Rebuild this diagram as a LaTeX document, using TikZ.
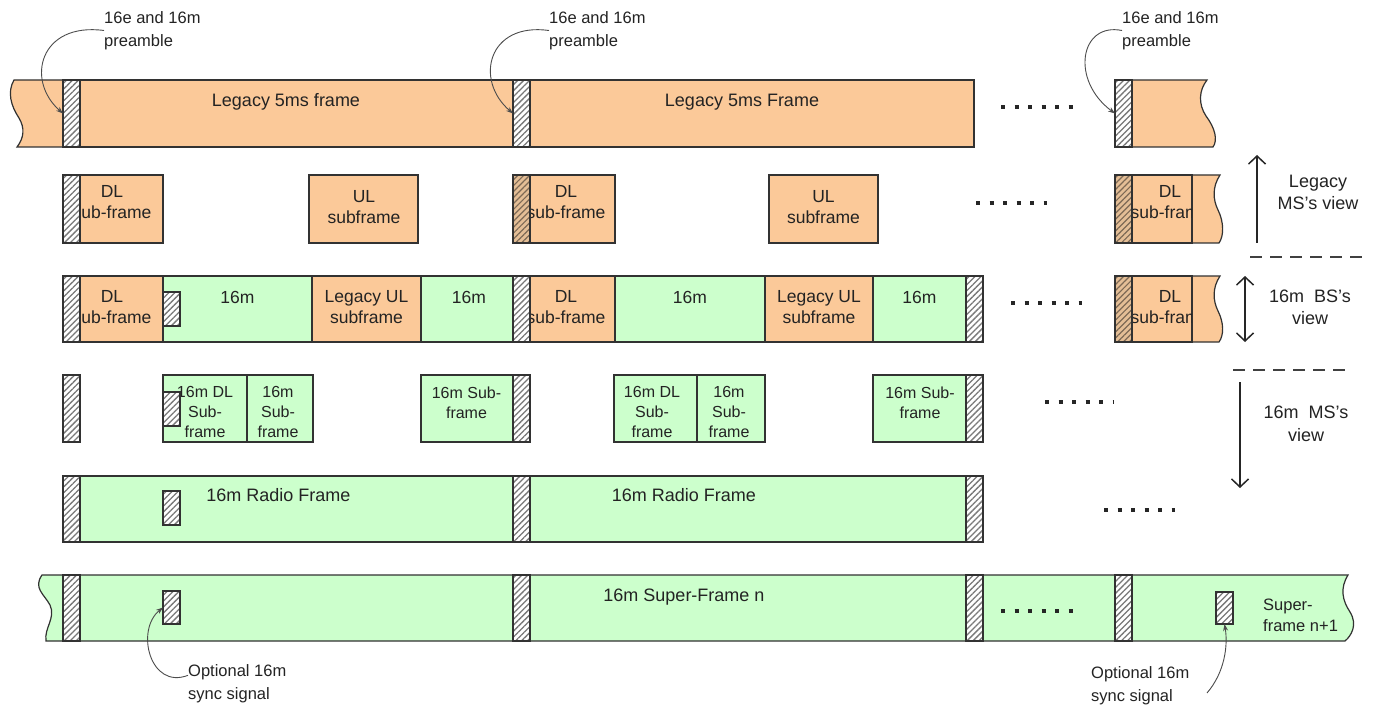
\documentclass[tikz,border=0pt]{standalone}
\usepackage{fontspec}
\setmainfont{Liberation Sans}
\usetikzlibrary{fit,patterns.meta,arrows.meta}
\definecolor{orF}{RGB}{251,201,153}
\definecolor{orH}{RGB}{228,190,150}
\definecolor{grF}{RGB}{204,255,204}
\definecolor{edgeC}{RGB}{50,50,50}
\definecolor{hatC}{RGB}{120,120,120}
\definecolor{hatB}{RGB}{125,105,85}
\definecolor{txtC}{RGB}{35,35,35}
\tikzset{
  seg/.style={draw=edgeC, line width=1.2pt, inner sep=0pt, outer sep=0pt},
  orb/.style={seg, fill=orF},
  grb/.style={seg, fill=grF},
  hat/.style={seg, preaction={fill=white}, pattern={Lines[angle=45,distance=4.2pt,line width=1.3pt]}, pattern color=hatC},
  hatb/.style={seg, preaction={fill=orH}, pattern={Lines[angle=45,distance=4.2pt,line width=1.2pt]}, pattern color=hatB},
  lbl/.style={text=txtC, inner sep=0pt, font=\fontsize{18}{21}\selectfont, align=center},
  sublbl/.style={lbl, font=\fontsize{17.5}{21}\selectfont},
  smalllbl/.style={lbl, font=\fontsize{16}{20}\selectfont},
  annlbl/.style={lbl, font=\fontsize{16.5}{23}\selectfont, align=left},
  viewlbl/.style={lbl, font=\fontsize{18}{22.5}\selectfont},
  dotrow/.style={line width=4pt, dash pattern=on 4pt off 9.5pt, draw=black!85},
  curvearr/.style={draw=black!70, line width=0.9pt, -{Stealth[length=7pt,width=5pt]}},
  viewarr/.style={draw=black!85, line width=1.5pt},
  sepline/.style={draw=black!75, line width=1.3pt, dash pattern=on 12pt off 8pt},
}
\newcommand\bx[6]{\node[#1, fit={(#3,#4) (#5,#6)}] (#2) {};}
\begin{document}
\begin{tikzpicture}[x=1pt,y=-1pt]
\useasboundingbox (0,0) rectangle (1375,711);
\fill[white] (0,0) rectangle (1375,711);

% ---------- Row 1 : legacy 5 ms frames ----------
\draw[seg, fill=orF] (14,80) -- (63,80) -- (63,147) -- (17,147)
  .. controls (24,138) and (25,128) .. (19,118)
  .. controls (11,106) and (7,92) .. (14,80) -- cycle;
\bx{orb}{o1a}{80}{80}{513}{147}
\bx{orb}{o1b}{530}{80}{974}{147}
\draw[seg, fill=orF] (1132,80) -- (1207,80)
  .. controls (1199,90) and (1198,104) .. (1206,116)
  .. controls (1215,128) and (1218,140) .. (1213,147) -- (1132,147) -- cycle;
\bx{hat}{h1a}{63}{80}{80}{147}
\bx{hat}{h1b}{513}{80}{530}{147}
\bx{hat}{h1c}{1115}{80}{1132}{147}
\node[lbl, anchor=base] (t1a) at (286,107) {Legacy 5ms frame};
\node[lbl, anchor=base] (t1b) at (742,107) {Legacy 5ms Frame};
\draw[dotrow] (1001,107) -- (1073,107);

% preamble annotations
\node[annlbl, anchor=west] (pa1) at (104,30.5) {16e and 16m\\preamble};
\node[annlbl, anchor=west] (pa2) at (549,30.5) {16e and 16m\\preamble};
\node[annlbl, anchor=west] (pa3) at (1122,30.5) {16e and 16m\\preamble};
\draw[curvearr] (pa1.west) .. controls (40,22) and (25,80) .. (h1a.west);
\draw[curvearr] (pa2.west) .. controls (488,22) and (474,80) .. (h1b.west);
\draw[curvearr] (pa3.west) .. controls (1080,22) and (1070,80) .. (h1c.west);

% ---------- Row 2 : legacy MS view ----------
\bx{orb}{o2a}{80}{175}{163}{243}
\node[sublbl] (t2a) at (112,202.5) {DL\\sub-frame};
\bx{hat}{h2a}{63}{175}{80}{243}
\bx{orb}{o2b}{309}{175}{418}{243}
\node[sublbl] (t2b) at (364,207.5) {UL\\subframe};
\bx{orb}{o2c}{530}{175}{615}{243}
\node[sublbl] (t2c) at (566,202.5) {DL\\sub-frame};
\bx{hatb}{h2b}{513}{175}{530}{243}
\bx{orb}{o2d}{769}{175}{878}{243}
\node[sublbl] (t2d) at (823.5,207.5) {UL\\subframe};
\draw[dotrow] (976,203) -- (1047,203);
\draw[seg, fill=orF] (1192,175) -- (1220,175)
  .. controls (1212,187) and (1213,200) .. (1218,210)
  .. controls (1224,222) and (1224,236) .. (1219,243) -- (1192,243) -- cycle;
\bx{orb}{o2e}{1132}{175}{1192}{243}
\begin{scope}
  \clip (1132,175) rectangle (1191,243);
  \node[sublbl] (t2e) at (1170,202.5) {DL\\sub-frame};
\end{scope}
\bx{hatb}{h2c}{1115}{175}{1132}{243}

% ---------- Row 3 : 16m BS view ----------
\bx{orb}{o3a}{80}{276}{163}{342}
\node[sublbl] (t3a) at (112,307) {DL\\sub-frame};
\bx{hat}{h3a}{63}{276}{80}{342}
\bx{grb}{g3a}{163}{276}{312}{342}
\bx{orb}{o3b}{312}{276}{421}{342}
\bx{grb}{g3b}{421}{276}{513}{342}
\bx{orb}{o3c}{530}{276}{615}{342}
\node[sublbl] (t3e) at (566,307) {DL\\sub-frame};
\bx{hat}{h3b}{513}{276}{530}{342}
\bx{grb}{g3c}{615}{276}{765}{342}
\bx{orb}{o3d}{765}{276}{873}{342}
\bx{grb}{g3d}{873}{276}{966}{342}
\bx{hat}{h3c}{966}{276}{983}{342}
\node[sublbl, anchor=base] (t3b) at (237.5,303) {16m};
\node[sublbl] (t3c) at (366.5,307.5) {Legacy UL\\subframe};
\node[sublbl, anchor=base] (t3d) at (469,303) {16m};
\node[sublbl, anchor=base] (t3f) at (690,303) {16m};
\node[sublbl] (t3g) at (819,307.5) {Legacy UL\\subframe};
\node[sublbl, anchor=base] (t3h) at (919.5,303) {16m};
\bx{hat}{s3}{163}{292}{180}{326}
\draw[dotrow] (1011,303) -- (1082,303);
\draw[seg, fill=orF] (1192,276) -- (1220,276)
  .. controls (1212,288) and (1213,301) .. (1218,311)
  .. controls (1224,323) and (1224,335) .. (1219,342) -- (1192,342) -- cycle;
\bx{orb}{o3e}{1132}{276}{1192}{342}
\begin{scope}
  \clip (1132,276) rectangle (1191,342);
  \node[sublbl] (t3i) at (1170,307) {DL\\sub-frame};
\end{scope}
\bx{hatb}{h3d}{1115}{276}{1132}{342}

% ---------- Row 4 : 16m MS view ----------
\bx{hat}{h4a}{63}{375}{80}{442}
\bx{grb}{g4a}{163}{375}{247}{442}
\bx{grb}{g4b}{247}{375}{313}{442}
\node[smalllbl] (t4a) at (205,412) {16m DL\\Sub-\\frame};
\node[smalllbl] (t4b) at (278,412) {16m\\Sub-\\frame};
\bx{hat}{s4}{163}{392}{180}{426}
\bx{grb}{g4c}{421}{375}{513}{442}
\node[smalllbl] (t4c) at (466.5,402.5) {16m Sub-\\frame};
\bx{hat}{h4b}{513}{375}{530}{442}
\bx{grb}{g4d}{614}{375}{697}{442}
\bx{grb}{g4e}{697}{375}{765}{442}
\node[smalllbl] (t4d) at (652,412) {16m DL\\Sub-\\frame};
\node[smalllbl] (t4e) at (729,412) {16m\\Sub-\\frame};
\bx{grb}{g4f}{873}{375}{966}{442}
\node[smalllbl] (t4f) at (920,402.5) {16m Sub-\\frame};
\bx{hat}{h4c}{966}{375}{983}{442}
\draw[dotrow] (1045,402) -- (1113,402);

% ---------- Row 5 : 16m radio frames ----------
\bx{grb}{g5a}{80}{476}{513}{542}
\bx{grb}{g5b}{530}{476}{966}{542}
\bx{hat}{h5a}{63}{476}{80}{542}
\bx{hat}{h5b}{513}{476}{530}{542}
\bx{hat}{h5c}{966}{476}{983}{542}
\bx{hat}{s5}{163}{491}{180}{525}
\node[lbl, anchor=base] (t5a) at (278.5,501) {16m Radio Frame};
\node[lbl, anchor=base] (t5b) at (684,501) {16m Radio Frame};
\draw[dotrow] (1104,510) -- (1175,510);

% ---------- Row 6 : 16m super-frame ----------
\draw[seg, fill=grF] (42,575) -- (1348,575)
  .. controls (1340,588) and (1342,600) .. (1350,612)
  .. controls (1358,625) and (1351,636) .. (1345,641) -- (46,641)
  .. controls (44,628) and (56,618) .. (50,605)
  .. controls (44,594) and (33,588) .. (42,575) -- cycle;
\bx{hat}{h6a}{63}{575}{80}{641}
\bx{hat}{h6b}{513}{575}{530}{641}
\bx{hat}{h6c}{966}{575}{983}{641}
\bx{hat}{h6d}{1115}{575}{1132}{641}
\bx{hat}{s6a}{163}{591}{180}{624}
\bx{hat}{s6b}{1216}{592}{1233}{624}
\node[lbl, anchor=base] (t6a) at (684,601) {16m Super-Frame n};
\node[smalllbl, anchor=west, align=left, font=\fontsize{16.5}{21}\selectfont] (t6b) at (1263,615.5) {Super-\\frame n+1};
\draw[dotrow] (1001,611) -- (1073,611);

% sync annotations
\node[annlbl, anchor=west] (sy1) at (188,684) {Optional 16m\\sync signal};
\node[annlbl, anchor=west] (sy2) at (1091,686) {Optional 16m\\sync signal};
\draw[curvearr] (sy1.170) .. controls (150,690) and (135,630) .. (s6a.west);
\coordinate (sy2s) at (1207,693);
\draw[curvearr] (sy2s) .. controls (1225,672) and (1228,645) .. (s6b.south);

% ---------- right-hand view markers ----------
\coordinate (u1) at (1257,243);
\coordinate (u2) at (1257,155);
\draw[viewarr, -{Straight Barb[length=8pt,width=17pt]}] (u1) -- (u2);
\node[viewlbl] (v1) at (1318,192.5) {Legacy\\MS's view};
\coordinate (d1a) at (1250,257);
\coordinate (d1b) at (1363,257);
\draw[sepline] (d1a) -- (d1b);
\coordinate (b1) at (1245,276);
\coordinate (b2) at (1245,342);
\draw[viewarr, {Straight Barb[length=8pt,width=17pt]}-{Straight Barb[length=8pt,width=17pt]}] (b1) -- (b2);
\node[viewlbl] (v2) at (1310,307.5) {16m\ \ BS's\\view};
\coordinate (d2a) at (1233,370);
\coordinate (d2b) at (1345,370);
\draw[sepline] (d2a) -- (d2b);
\coordinate (m1) at (1240,382);
\coordinate (m2) at (1240,488);
\draw[viewarr, -{Straight Barb[length=8pt,width=17pt]}] (m1) -- (m2);
\node[viewlbl] (v3) at (1306,424) {16m\ \ MS's\\view};
\end{tikzpicture}
\end{document}
